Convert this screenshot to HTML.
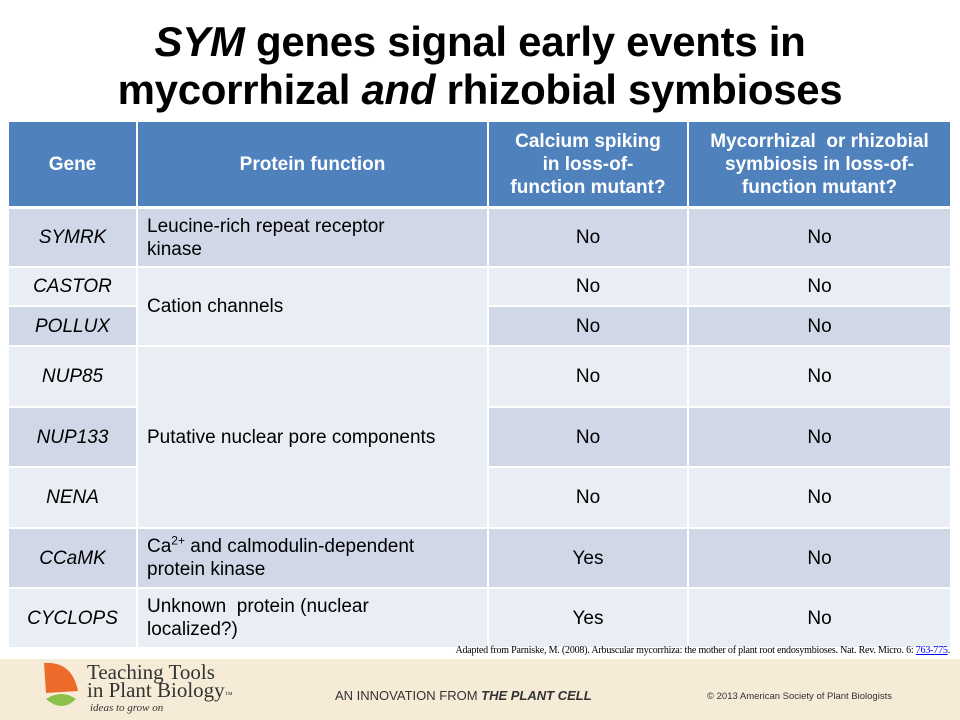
<!DOCTYPE html>
<html><head><meta charset="utf-8"><style>
body{margin:0;width:960px;height:720px;background:#fff;position:relative;overflow:hidden;font-family:"Liberation Sans",Arial,sans-serif}
.t{position:absolute;left:0;width:960px;text-align:center;font-weight:bold;font-size:42px;color:#000;line-height:46px;letter-spacing:-0.3px}
.c{position:absolute;box-sizing:border-box;display:flex;align-items:center;font-size:19px;color:#000;line-height:23px}
.h{background:#4F81BD;color:#fff;font-weight:bold;justify-content:center;text-align:center}
.d{background:#D0D8E8}.l{background:#E9EDF4}
.g{justify-content:center;font-style:italic}
.p{padding-left:9px}
.m{justify-content:center}
#footer{position:absolute;left:0;top:659px;width:960px;height:61px;background:#F6EBD6}
</style></head><body>
<div class="t" style="top:19px"><i>SYM</i> genes signal early events in</div>
<div class="t" style="top:67px">mycorrhizal <i>and</i> rhizobial symbioses</div>
<div id="tbl"></div>
<div style="position:absolute;right:10px;top:645px;font-family:'Liberation Serif',serif;font-size:10px;letter-spacing:-0.2px">Adapted from Parniske, M. (2008). Arbuscular mycorrhiza: the mother of plant root endosymbioses. Nat. Rev. Micro. 6: <span style="color:#00f;text-decoration:underline">763-775</span>.</div>
<div id="footer">
<svg style="position:absolute;left:42px;top:2px" width="40" height="50"><path d="M2 2 Q30 0 36 30 L4 32 Z" fill="#EE6A2A"/><path d="M4 38 Q20 28 34 38 Q20 52 4 38Z" fill="#8CC04B"/></svg>
<div style="position:absolute;left:87px;top:4px;font-family:'Liberation Serif',serif;font-size:21px;line-height:18px;color:#333">Teaching Tools<br>in Plant Biology<span style="font-size:8px">™</span></div>
<div style="position:absolute;left:90px;top:43px;font-family:'Liberation Serif',serif;font-style:italic;font-size:11px;color:#333">ideas to grow on</div>
<div style="position:absolute;left:335px;top:29px;font-size:13px;color:#333">AN INNOVATION FROM <b><i>THE PLANT CELL</i></b></div>
<div style="position:absolute;left:707px;top:32px;font-size:9.5px;color:#333">© 2013 American Society of Plant Biologists</div>
</div>
<script>
const genes=["SYMRK","CASTOR","POLLUX","NUP85","NUP133","NENA","CCaMK","CYCLOPS"];
const calcium=["No","No","No","No","No","No","Yes","Yes"];
const symbiosis=["No","No","No","No","No","No","No","No"];
const X=[8,137,488,688,951];
const Y=[121,208,267,306,346,407,467,528,588,648];
const tbl=document.getElementById('tbl');
function cell(x0,x1,y0,y1,cls,html,name){
 const d=document.createElement('div');
 d.className='c '+cls;
 d.style.left=(x0+1)+'px';d.style.top=(y0+1)+'px';
 d.style.width=(x1-x0-2)+'px';d.style.height=(y1-y0-2)+'px';
 d.innerHTML='<span>'+html+'</span>';
 
 
 tbl.appendChild(d);
}
const hdr=["Gene","Protein function","Calcium spiking<br>in loss-of-<br>function mutant?","Mycorrhizal&nbsp; or rhizobial<br>symbiosis in loss-of-<br>function mutant?"];
for(let i=0;i<4;i++)cell(X[i],X[i+1],Y[0],Y[1]-1,'h',hdr[i],'header-cell');
const shade=i=>i%2===0?'d':'l';
for(let i=0;i<genes.length;i++){
 cell(X[0],X[1],Y[i+1],Y[i+2],shade(i)+' g',genes[i],'gene-cell');
 cell(X[2],X[3],Y[i+1],Y[i+2],shade(i)+' m',calcium[i],'calcium-cell');
 cell(X[3],X[4],Y[i+1],Y[i+2],shade(i)+' m',symbiosis[i],'symbiosis-cell');
}
cell(X[1],X[2],Y[1],Y[2],'d p','Leucine-rich repeat receptor<br>kinase','function-cell');
cell(X[1],X[2],Y[2],Y[4],'l p','Cation channels','function-cell');
cell(X[1],X[2],Y[4],Y[7],'l p','Putative nuclear pore components','function-cell');
cell(X[1],X[2],Y[7],Y[8],'d p','Ca<sup style="font-size:12px;line-height:0">2+</sup> and calmodulin-dependent<br>protein kinase','function-cell');
cell(X[1],X[2],Y[8],Y[9],'l p','Unknown&nbsp; protein (nuclear<br>localized?)','function-cell');
</script>
</body></html>
